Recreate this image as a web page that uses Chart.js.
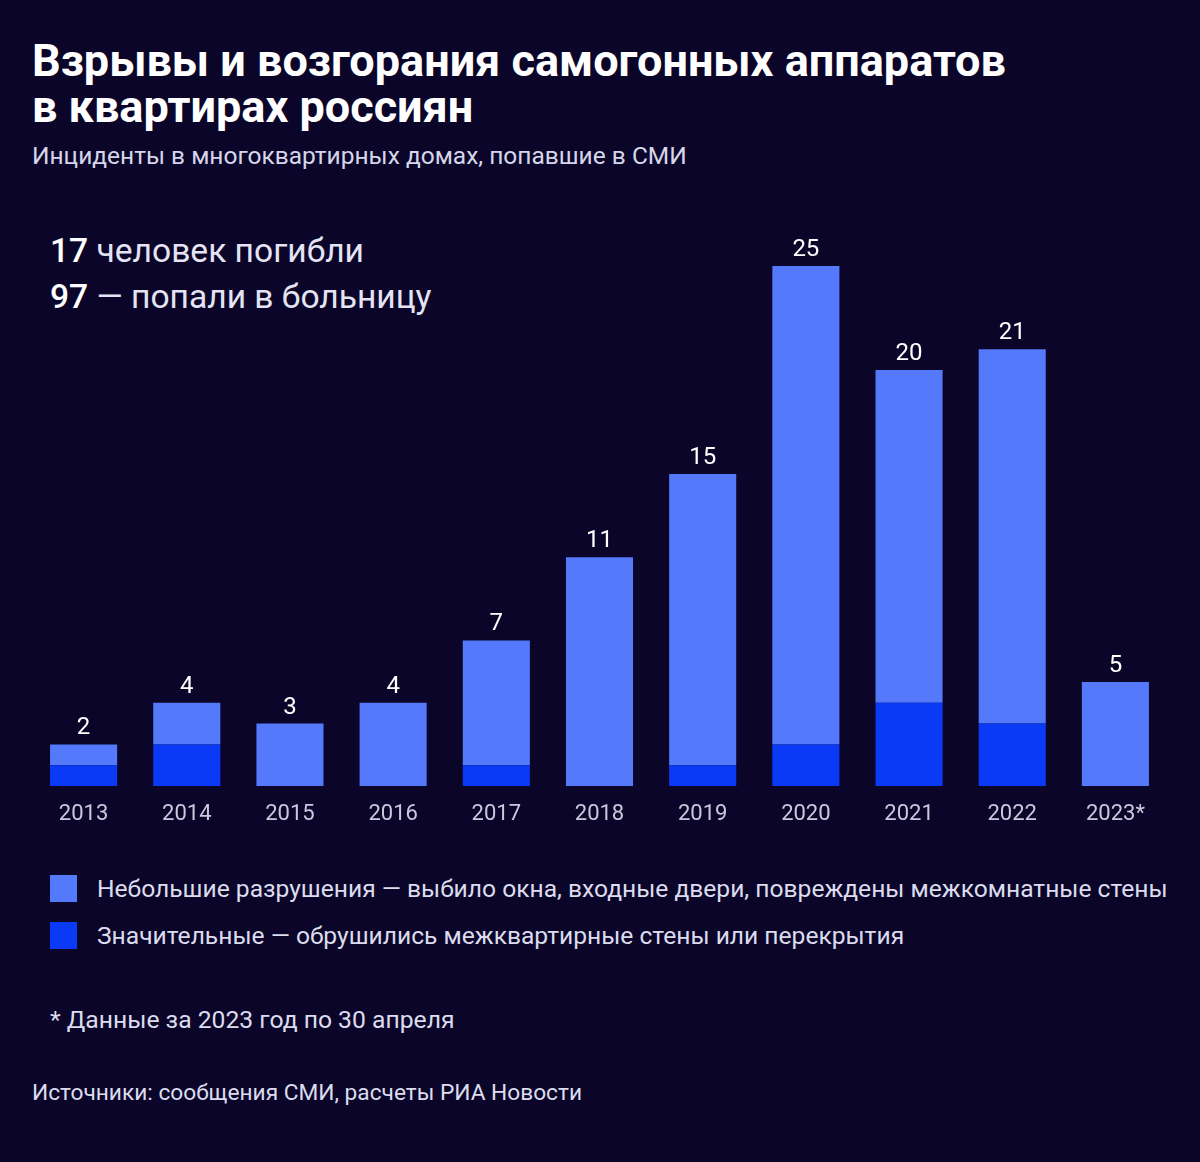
<!DOCTYPE html>
<html>
<head>
<meta charset="utf-8">
<script src="https://cdn.jsdelivr.net/npm/chart.js@4"></script>
<style>
  html, body { margin:0; padding:0; }
  body { width:1200px; height:1162px; background:#0b0629; font-family:Roboto, sans-serif; color:#dcdcee; position:relative; overflow:hidden; }
  .abs { position:absolute; white-space:nowrap; }
  #title { left:32px; top:38px; font-size:45px; line-height:46px; font-weight:700; color:#fff; }
  #subtitle { left:32px; top:141px; font-size:24.5px; color:#d6d6ea; }
  .note { left:50px; font-size:33.6px; color:#e4e4f4; }
  .note b { font-weight:500; color:#fff; }
  #chartBox { position:absolute; left:0; top:200px; width:1200px; height:640px; }
  .leg { left:50px; font-size:24.6px; color:#dcdcee; }
  .leg span.sq { display:inline-block; width:27px; height:27px; vertical-align:middle; margin-right:20px; position:relative; top:-2px; }
  #foot { left:50px; top:1005px; font-size:24.7px; }
  #src { left:32px; top:1079px; font-size:22.7px; }
</style>
</head>
<body>
<div id="title" class="abs">Взрывы и возгорания самогонных аппаратов<br>в квартирах россиян</div>
<div id="subtitle" class="abs">Инциденты в многоквартирных домах, попавшие в СМИ</div>
<div class="abs note" style="top:231px"><b>17</b> человек погибли</div>
<div class="abs note" style="top:277px"><b>97</b> — попали в больницу</div>
<div id="chartBox"><canvas id="myChart"></canvas></div>
<div class="abs leg" style="top:874px"><span class="sq" style="background:#5479fb"></span>Небольшие разрушения — выбило окна, входные двери, повреждены межкомнатные стены</div>
<div class="abs leg" style="top:921px"><span class="sq" style="background:#0a3af5"></span>Значительные — обрушились межквартирные стены или перекрытия</div>
<div id="foot" class="abs">* Данные за 2023 год по 30 апреля</div>
<div id="src" class="abs">Источники: сообщения СМИ, расчеты РИА Новости</div>
<script>
const years = ["2013","2014","2015","2016","2017","2018","2019","2020","2021","2022","2023*"];
const significant = [1, 2, 0, 0, 1, 0, 1, 2, 4, 3, 0];
const small = [1, 2, 3, 4, 6, 11, 14, 23, 16, 18, 5];
const lightColor = '#5479fb';
const darkColor = '#0a3af5';

// totals above each stack
const totalsPlugin = {
  id: 'totals',
  afterDatasetsDraw(chart) {
    const ctx = chart.ctx;
    const yScale = chart.scales.y;
    const xScale = chart.scales.x;
    ctx.save();
    ctx.fillStyle = '#ffffff';
    ctx.font = '24px Roboto';
    ctx.textAlign = 'center';
    ctx.textBaseline = 'alphabetic';
    years.forEach((y, i) => {
      const total = significant[i] + small[i];
      ctx.fillText(String(total), xScale.getPixelForValue(i), yScale.getPixelForValue(total) - 10);
    });
    ctx.restore();
  }
};

const canvas = document.getElementById('myChart');
canvas.width = 1200; canvas.height = 640;
new Chart(canvas.getContext('2d'), {
  type: 'bar',
  data: {
    labels: years,
    datasets: [
      { label: 'Значительные', data: significant, backgroundColor: darkColor },
      { label: 'Небольшие разрушения', data: small, backgroundColor: lightColor }
    ]
  },
  options: {
    responsive: false,
    animation: false,
    devicePixelRatio: 1,
    categoryPercentage: 1,
    barPercentage: 0.65,
    layout: { padding: { left: 32, right: 33, top: 66, bottom: 0 } },
    scales: {
      x: {
        stacked: true,
        grid: { display: false },
        border: { display: false },
        ticks: { color: '#c9c9de', font: { family: 'Roboto', size: 22 }, padding: 7 },
        afterFit(axis) { axis.height = 54; }
      },
      y: {
        stacked: true,
        display: false,
        min: 0,
        max: 25
      }
    },
    plugins: {
      legend: { display: false },
      tooltip: { enabled: false }
    }
  },
  plugins: [totalsPlugin]
});
</script>
</body>
</html>
